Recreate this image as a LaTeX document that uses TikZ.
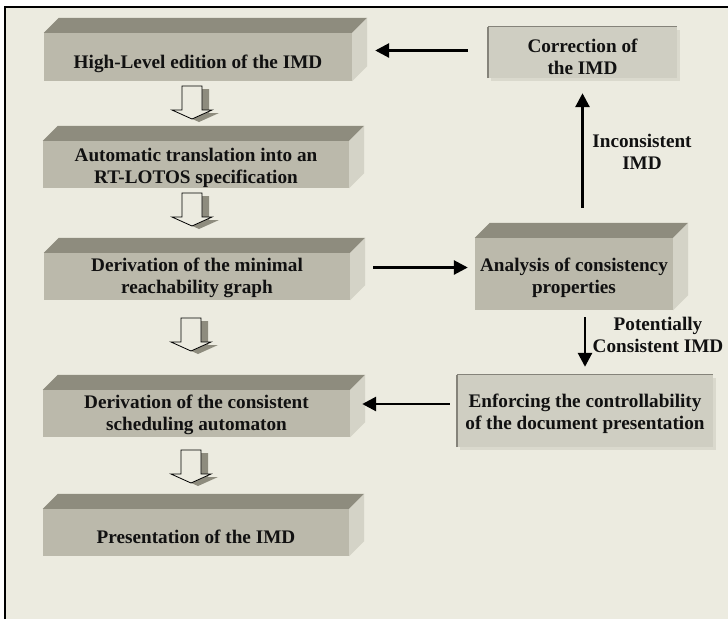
\documentclass[tikz,border=0pt]{standalone}
\usepackage{fontspec}
\setmainfont{Liberation Serif}
\usetikzlibrary{arrows.meta,calc}

\definecolor{bgc}{HTML}{ECEBE0}
\definecolor{frontc}{HTML}{BBB9AB}
\definecolor{topc}{HTML}{8E8C7E}
\definecolor{sidec}{HTML}{D4D3C7}
\definecolor{flatc}{HTML}{CFCEC2}
\definecolor{flatshadow}{HTML}{DAD9CD}
\definecolor{edgec}{HTML}{85837A}
\definecolor{inkc}{HTML}{111111}

% top and right faces of a slab whose front face is node #1
\newcommand\slabfaces[1]{%
  \fill[topc] (#1.north west) -- ++(15,-15) -- ([shift={(15,-15)}]#1.north east) -- (#1.north east) -- cycle;
  \fill[sidec] (#1.north east) -- ++(15,-15) -- ([shift={(15,-15)}]#1.south east) -- (#1.south east) -- cycle;}

% hollow block arrow with a drop shadow, tail centre at (#1,#2)
\newcommand\blockarrow[2]{%
  \begin{scope}[shift={(#1,#2)}]
    \fill[topc] (-3,3) -- (17,3) -- (17,27) -- (27,27) -- (7,36) -- (-13,27) -- (-3,27) -- cycle;
    \filldraw[fill=bgc, draw=black, line width=0.8pt]
      (-10,0) -- (10,0) -- (10,24) -- (20,24) -- (0,33) -- (-20,24) -- (-10,24) -- cycle;
  \end{scope}}

\tikzset{
  txt/.style={font=\bfseries\fontsize{19.2}{22}\selectfont, text=inkc, align=center, inner sep=0pt},
  slab/.style={fill=frontc, inner sep=0pt},
  flatbox/.style={fill=flatc, inner sep=0pt},
  arr/.style={line width=2.8pt, -{Triangle[length=14pt,width=14pt]}}
}

\begin{document}
\begin{tikzpicture}[x=1pt,y=-1pt]
\useasboundingbox (0,0) rectangle (728,619);
\fill[white] (0,0) rectangle (728,619);
\fill[bgc] (5,7) rectangle (728,619);
\draw[line width=1.5pt] (5,619) -- (5,7) -- (728,7);

% main chain of slabs
\node[slab, minimum width=308pt, minimum height=48pt] (b1) at (198,57) {};
\slabfaces{b1}
\node[txt] (b1t) at ($(b1)+(0,7)$) {High-Level edition of the IMD};

\node[slab, minimum width=306pt, minimum height=47pt] (b2) at (196,164.5) {};
\slabfaces{b2}
\node[txt] (b2t) at ($(b2)+(0,3)$) {Automatic translation into an\\RT-LOTOS specification};

\node[slab, minimum width=306pt, minimum height=47pt] (b3) at (197,276.5) {};
\slabfaces{b3}
\node[txt] (b3t) at ($(b3)+(0,1)$) {Derivation of the minimal\\reachability graph};

\node[slab, minimum width=307pt, minimum height=47pt] (b4) at (196.5,413.5) {};
\slabfaces{b4}
\node[txt] (b4t) at ($(b4)+(0,1)$) {Derivation of the consistent\\scheduling automaton};

\node[slab, minimum width=306pt, minimum height=47pt] (b5) at (196,532.5) {};
\slabfaces{b5}
\node[txt] (b5t) at ($(b5)+(0,4)$) {Presentation of the IMD};

% block arrows between the slabs
\blockarrow{192}{86}
\blockarrow{192}{193}
\blockarrow{191}{318}
\blockarrow{191}{450}

% analysis slab
\node[slab, minimum width=198pt, minimum height=72pt] (ana) at (574,274) {};
\slabfaces{ana}
\node[txt] (anat) at ($(ana)+(0,4)$) {Analysis of consistency\\properties};

% flat boxes on the right
\fill[flatshadow] (491,30) rectangle (680,81);
\node[flatbox, minimum width=189pt, minimum height=51pt] (corr) at (582.5,52.5) {};
\draw[edgec, line width=1pt] (corr.north west) -- (corr.north east);
\draw[edgec, line width=2pt] (corr.south west) -- (corr.north west);
\node[txt] (corrt) at ($(corr)+(0,4)$) {Correction of\\the IMD};

\fill[flatshadow] (460,378) rectangle (716,450);
\node[flatbox, minimum width=256pt, minimum height=72pt] (enf) at (585,411) {};
\draw[edgec, line width=1pt] (enf.north west) -- (enf.north east);
\draw[edgec, line width=2pt] (enf.south west) -- (enf.north west);
\node[txt] (enft) at ($(enf)+(0,3)$) {Enforcing the controllability\\of the document presentation};

% connectors
\draw[arr] ($(corr.west)+(-20,-2)$) -- ($(b1.east |- corr.west)+(23,-2)$);
\draw[arr] ($(b3.east)+(23,-9)$) -- ($(ana.west |- b3.east)+(-7,-9)$);
\draw[arr] ($(ana.north -| corr.south)+(0,-30)$) -- ($(corr.south)+(0,15)$);
\draw[arr] ($(ana.south -| enf.north)+(0,7)$) -- ($(enf.north)+(0,-8)$);
\draw[arr] ($(enf.west)+(-7,-7)$) -- ($(b4.east |- enf.west)+(12,-7)$);

% connector labels
\node[txt] (l1) at (642,152) {Inconsistent\\IMD};
\node[txt] (l2) at (658,335) {Potentially\\Consistent IMD};
\end{tikzpicture}
\end{document}
